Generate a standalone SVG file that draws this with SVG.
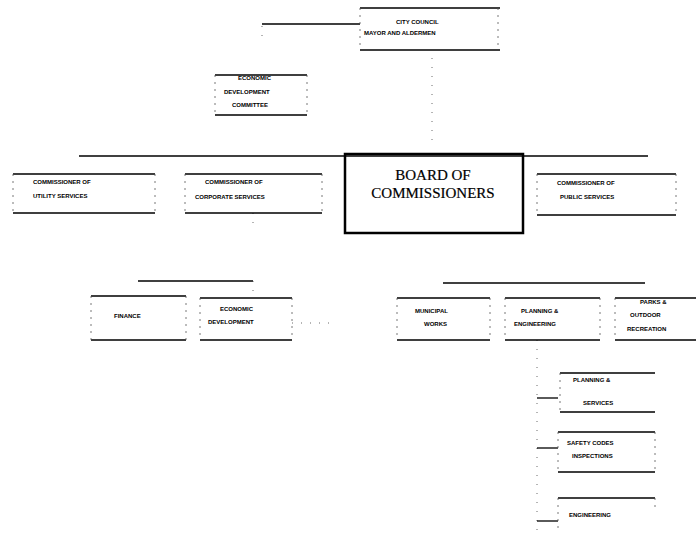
<svg xmlns="http://www.w3.org/2000/svg" width="696" height="537" viewBox="0 0 696 537">
<style>
.h{stroke:#000;stroke-width:1.6;fill:none}
.s{stroke:#555;stroke-width:0.8;stroke-dasharray:2 5;fill:none}
.c{stroke:#000;stroke-width:1.3;fill:none}
.d{stroke:#444;stroke-width:0.8;stroke-dasharray:1 8;fill:none}
.t{font-family:"Liberation Sans",Arial,sans-serif;font-size:6px;font-weight:bold;fill:#000}
.b{font-family:"Liberation Serif","Times New Roman",serif;font-size:15px;fill:#000;text-anchor:middle;stroke:#000;stroke-width:0.2}
</style>
<rect width="696" height="537" fill="#fff"/>
<g id="connectors">
<path class="c" d="M262 24H360"/>
<path class="d" d="M262 26V36"/>
<path class="d" d="M432 58V145"/>
<path class="c" d="M79 156H648"/>
<path class="d" d="M253 213V230"/>
<path class="c" d="M138 281H253"/>
<path class="d" d="M253 281V296"/>
<path class="d" d="M292 323H332"/>
<path class="c" d="M443 283H645"/>
<path class="d" d="M537 340V530"/>
<path class="c" d="M537 398H558"/>
<path class="c" d="M537 448H558"/>
<path class="c" d="M537 521H558"/>
</g>
<g id="city-council">
<path class="h" d="M360 8H500M360 50H500"/><path class="s" d="M360 8V50M498 8V50"/>
<text class="t" x="396" y="24">CITY COUNCIL</text>
<text class="t" x="364" y="35">MAYOR AND ALDERMEN</text>
</g>
<g id="econ-committee">
<path class="h" d="M215 75H307M215 115H307"/><path class="s" d="M215 75V115M307 75V115"/>
<text class="t" x="238" y="80">ECONOMIC</text>
<text class="t" x="224" y="94">DEVELOPMENT</text>
<text class="t" x="232" y="107">COMMITTEE</text>
</g>
<g id="board">
<rect x="345" y="154" width="178" height="79" fill="none" stroke="#000" stroke-width="2.5"/>
<text class="b" x="433" y="180">BOARD OF</text>
<text class="b" x="433" y="198">COMMISSIONERS</text>
</g>
<g id="comm-utility">
<path class="h" d="M13 174H155M13 213H155"/><path class="s" d="M13 174V213M155 174V213"/>
<text class="t" x="33" y="184">COMMISSIONER OF</text>
<text class="t" x="33" y="198">UTILITY SERVICES</text>
</g>
<g id="comm-corporate">
<path class="h" d="M185 174H322M185 213H322"/><path class="s" d="M185 174V213M322 174V213"/>
<text class="t" x="205" y="184">COMMISSIONER OF</text>
<text class="t" x="195" y="199">CORPORATE SERVICES</text>
</g>
<g id="comm-public">
<path class="h" d="M537 174H676M537 215H676"/><path class="s" d="M537 174V215M676 174V215"/>
<text class="t" x="557" y="185">COMMISSIONER OF</text>
<text class="t" x="560" y="199">PUBLIC SERVICES</text>
</g>
<g id="finance">
<path class="h" d="M91 296H186M91 340H186"/><path class="s" d="M91 296V340M186 296V340"/>
<text class="t" x="114" y="318">FINANCE</text>
</g>
<g id="econ-dev">
<path class="h" d="M200 298H292M200 340H292"/><path class="s" d="M200 298V340M292 298V340"/>
<text class="t" x="220" y="311">ECONOMIC</text>
<text class="t" x="208" y="324">DEVELOPMENT</text>
</g>
<g id="municipal-works">
<path class="h" d="M397 298H490M397 340H490"/><path class="s" d="M397 298V340M490 298V340"/>
<text class="t" x="415" y="313">MUNICIPAL</text>
<text class="t" x="424" y="326">WORKS</text>
</g>
<g id="planning-eng">
<path class="h" d="M505 298H600M505 340H600"/><path class="s" d="M505 298V340M600 298V340"/>
<text class="t" x="521" y="313">PLANNING &amp;</text>
<text class="t" x="514" y="326">ENGINEERING</text>
</g>
<g id="parks">
<path class="h" d="M615 298H696M615 340H696"/><path class="s" d="M615 298V340"/>
<text class="t" x="640" y="304">PARKS &amp;</text>
<text class="t" x="630" y="317">OUTDOOR</text>
<text class="t" x="627" y="331">RECREATION</text>
</g>
<g id="planning-services">
<path class="h" d="M560 373H655M560 412H655"/><path class="s" d="M560 373V412"/>
<text class="t" x="573" y="382">PLANNING &amp;</text>
<text class="t" x="583" y="405">SERVICES</text>
</g>
<g id="safety-codes">
<path class="h" d="M558 432H655M558 472H655"/><path class="s" d="M558 432V472M655 432V472"/>
<text class="t" x="567" y="445">SAFETY CODES</text>
<text class="t" x="572" y="458">INSPECTIONS</text>
</g>
<g id="engineering">
<path class="h" d="M558 498H655"/><path class="s" d="M558 498V530M655 498V510"/>
<text class="t" x="569" y="517">ENGINEERING</text>
</g>
</svg>
